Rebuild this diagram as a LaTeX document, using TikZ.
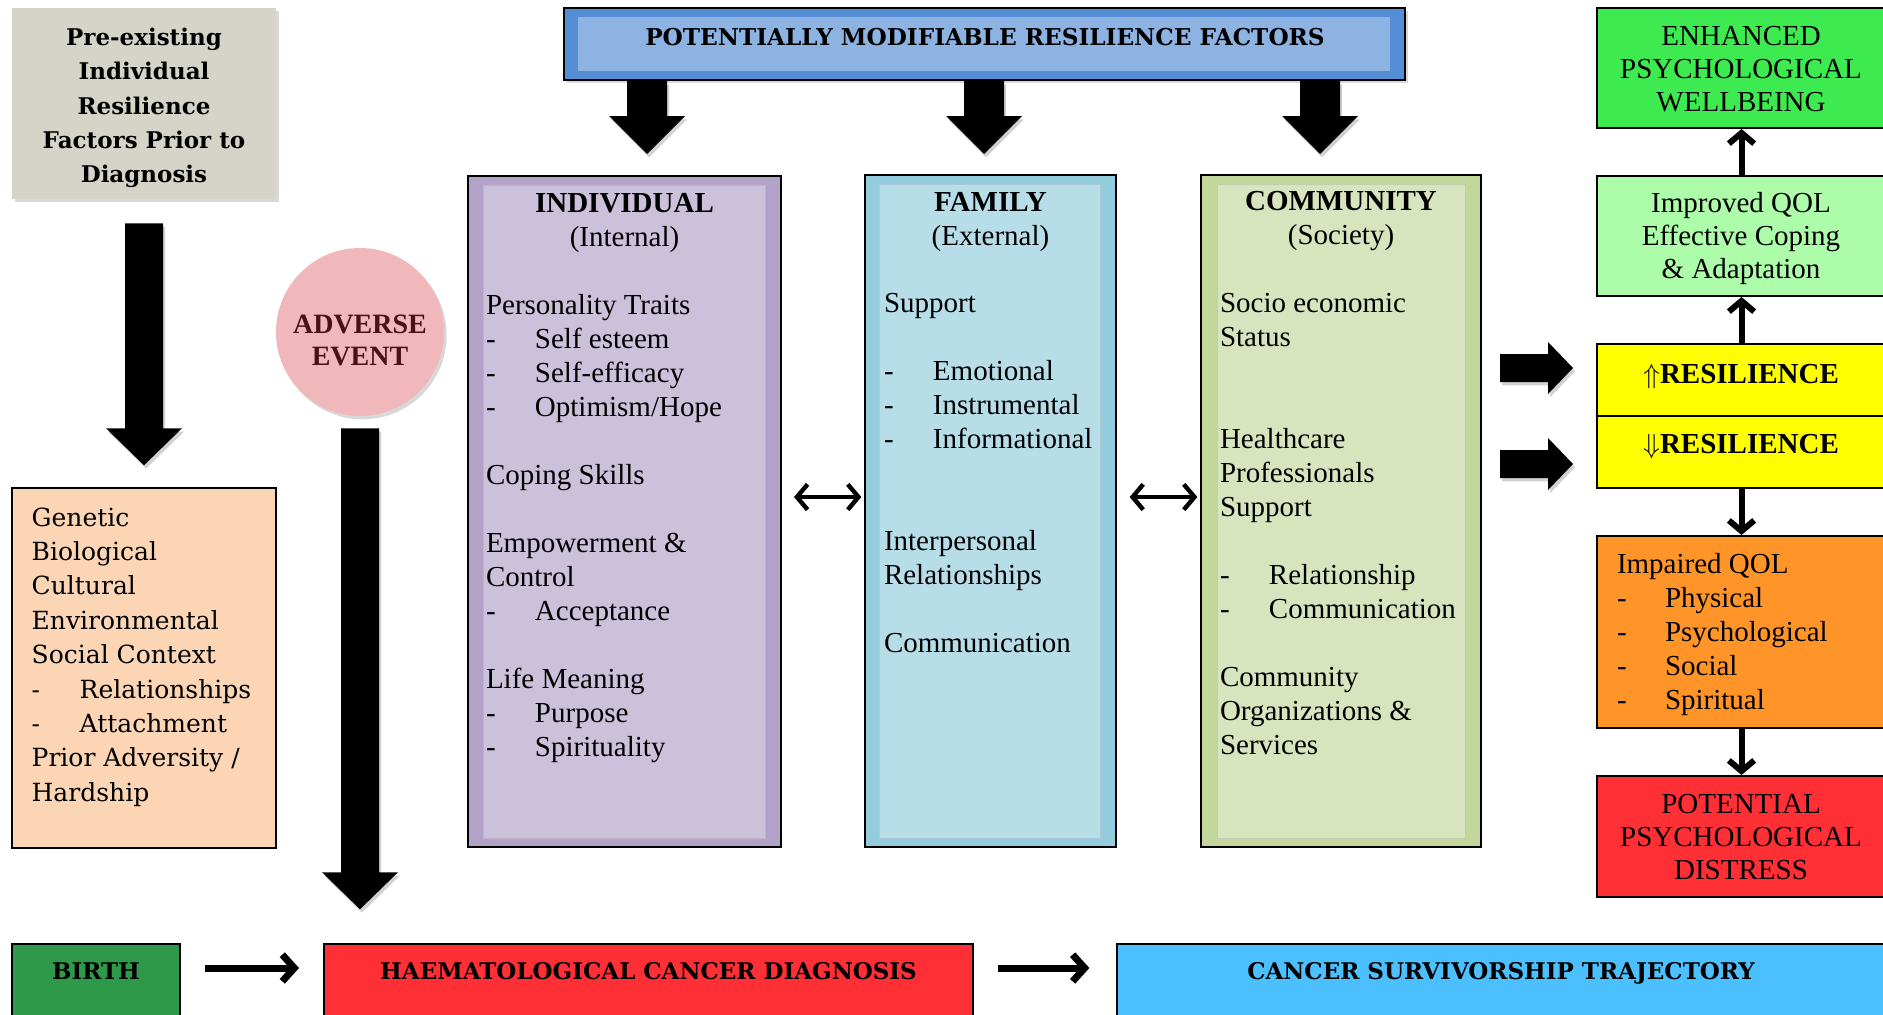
\documentclass[tikz,border=0pt]{standalone}
\usepackage{fontspec}
\setmainfont{Liberation Serif}
\newfontfamily\camb{DejaVu Serif}
\usetikzlibrary{arrows.meta,shadows,calc,fit}

\definecolor{preC}{HTML}{D6D4C8}
\definecolor{titleO}{HTML}{558ED5}
\definecolor{titleI}{HTML}{8DB3E2}
\definecolor{indO}{HTML}{B3A2C7}
\definecolor{indI}{HTML}{CCC1DA}
\definecolor{famO}{HTML}{93CDDD}
\definecolor{famI}{HTML}{B7DEE8}
\definecolor{comO}{HTML}{C3D69B}
\definecolor{comI}{HTML}{D7E4BD}
\definecolor{peachC}{HTML}{FCD5B5}
\definecolor{advC}{HTML}{F0B8BB}
\definecolor{advT}{HTML}{4A1214}
\definecolor{enhC}{HTML}{3DEA50}
\definecolor{impC}{HTML}{ADFCA9}
\definecolor{yelC}{HTML}{FFFF00}
\definecolor{oraC}{HTML}{FF9528}
\definecolor{redC}{HTML}{FF2F36}
\definecolor{birC}{HTML}{2E9A49}
\definecolor{canC}{HTML}{4CBFFF}

\newcommand\bodyfont{\fontsize{21.75pt}{25.5pt}\selectfont}
\newcommand\rfont{\fontsize{21.75pt}{24.9pt}\selectfont}
\newcommand\cambfont{\camb\fontsize{18.75pt}{25.8pt}\selectfont}
\newcommand\cambbold{\camb\bfseries\fontsize{17.25pt}{25.7pt}\selectfont}
\newcommand\di[1]{\makebox[36.75pt][l]{-}#1}
\newcommand\dii[1]{\makebox[36pt][l]{-}#1}

\newcommand\vblock[5]{%
  \fill[blockarrow] #1 ++(-#3,0) -- ++(2*#3,0) -- ++(0,#2-#5) -- ++(#4-#3,0)
    -- ++(-#4,#5) -- ++(-#4,-#5) -- ++(#4-#3,0) -- cycle;}
\newcommand\hblock[5]{%
  \fill[blockarrow] #1 ++(0,-#3) -- ++(#2-#5,0) -- ++(0,#3-#4) -- ++(#5,#4)
    -- ++(-#5,#4) -- ++(0,#3-#4) -- ++(#5-#2,0) -- cycle;}

\tikzset{
  box/.style={draw=black, line width=1.5pt, rectangle, inner sep=0pt},
  inbox/.style={rectangle, inner sep=0pt, line width=0.6pt},
  ctr/.style={inner sep=0pt, outer sep=0pt, anchor=base},
  lft/.style={inner sep=0pt, outer sep=0pt, anchor=base west},
  blockarrow/.style={fill=black, drop shadow={opacity=0.35, shadow xshift=1.5pt, shadow yshift=-2.5pt}},
  soft/.style={drop shadow={opacity=0.3, shadow xshift=2pt, shadow yshift=-2.5pt}},
  dbl/.style={line width=3.3pt, {Straight Barb[length=8pt,width=19pt]}-{Straight Barb[length=8pt,width=19pt]}},
  varr/.style={line width=4.5pt, -{Straight Barb[length=8pt,width=19pt]}},
  harr/.style={line width=5.25pt, -{Straight Barb[length=9pt,width=20pt]}},
}

\begin{document}
\begin{tikzpicture}[x=0.75pt, y=-0.75pt]
\fill[white] (0,0) rectangle (1883,1014);
\useasboundingbox (0,0) rectangle (1883,1014);

% ---- left: pre-existing factors ----
\node[rectangle, inner sep=0pt, fill=preC, soft, fit={(12,8) (276,199)}] (pre) {};
\node[ctr] (pret) at (144,45.7) {\parbox[t]{195pt}{\centering\cambbold Pre-existing\par Individual\par Resilience\par Factors Prior to\par Diagnosis}};

\node[box, fill=peachC, fit={(12,488) (276,848)}] (peach) {};
\node[lft] (peacht) at (31.7,526) {\parbox[t]{200pt}{\cambfont Genetic\par Biological\par Cultural\par Environmental\par Social Context\par \dii{Relationships}\par \dii{Attachment}\par Prior Adversity /\par Hardship}};

% ---- adverse event ----
\node[circle, fill=advC, minimum size=126pt, inner sep=0pt, soft] (adv) at (360,332) {};
\node[ctr, text=advT] (advt) at (360,333) {\parbox[t]{120pt}{\centering\bfseries\fontsize{21pt}{24pt}\selectfont ADVERSE\par EVENT}};

% ---- title ----
\node[box, fill=titleO, soft, fit={(564,8) (1405,80)}] (pot) {};
\node[inbox, fill=titleI, fit={(578,17) (1390,71)}] (potin) {};
\node[ctr, font=\camb\bfseries\fontsize{17.4pt}{21pt}\selectfont] (pott) at (985,45) {POTENTIALLY MODIFIABLE RESILIENCE FACTORS};

% ---- three columns ----
\node[box, fill=indO, fit={(468,176) (781,847)}] (ind) {};
\node[inbox, fill=indI, draw=indO!80!black!60, fit={(483,185) (765,838)}] (indin) {};
\node[box, fill=famO, fit={(865,175) (1116,847)}] (fam) {};
\node[inbox, fill=famI, draw=famO!80!black!60, fit={(879,184) (1100,838)}] (famin) {};
\node[box, fill=comO, fit={(1201,175) (1481,847)}] (com) {};
\node[inbox, fill=comI, draw=comO!80!black!60, fit={(1217,184) (1465,838)}] (comin) {};

\node[ctr, font=\bodyfont] (indh) at (624.5,212) {\parbox[t]{200pt}{\centering\textbf{INDIVIDUAL}\par(Internal)}};
\node[lft, font=\bodyfont] (indt) at (486,314) {\parbox[t]{250pt}{Personality Traits\par\di{Self esteem}\par\di{Self-efficacy}\par\di{Optimism/Hope}\par\mbox{}\par Coping Skills\par\mbox{}\par Empowerment \&\par Control\par\di{Acceptance}\par\mbox{}\par Life Meaning\par\di{Purpose}\par\di{Spirituality}}};

\node[ctr, font=\bodyfont] (famh) at (990.5,211) {\parbox[t]{180pt}{\centering\textbf{FAMILY}\par(External)}};
\node[lft, font=\bodyfont] (famt) at (884,312) {\parbox[t]{250pt}{Support\par\mbox{}\par\di{Emotional}\par\di{Instrumental}\par\di{Informational}\par\mbox{}\par\mbox{}\par Interpersonal\par Relationships\par\mbox{}\par Communication}};

\node[ctr, font=\bodyfont] (comh) at (1341,210) {\parbox[t]{220pt}{\centering\textbf{COMMUNITY}\par(Society)}};
\node[lft, font=\bodyfont] (comt) at (1220,312) {\parbox[t]{250pt}{Socio economic\par Status\par\mbox{}\par\mbox{}\par Healthcare\par Professionals\par Support\par\mbox{}\par\di{Relationship}\par\di{Communication}\par\mbox{}\par Community\par Organizations \&\par Services}};

% ---- right column ----
\node[box, fill=enhC, fit={(1597,8) (1886,128)}] (enh) {};
\node[ctr, font=\rfont] (enht) at (1741,45) {\parbox[t]{230pt}{\centering ENHANCED\par PSYCHOLOGICAL\par WELLBEING}};
\node[box, fill=impC, fit={(1597,176) (1886,296)}] (impr) {};
\node[ctr, font=\rfont] (imprt) at (1741,212) {\parbox[t]{230pt}{\centering Improved QOL\par Effective Coping\par \& Adaptation}};
\node[box, fill=yelC, fit={(1597,344) (1886,416)}] (upres) {};
\node[ctr, font=\bodyfont\bfseries] (uprest) at (1741,383) {$\Uparrow$RESILIENCE};
\node[box, fill=yelC, fit={(1597,416) (1886,488)}] (dnres) {};
\node[ctr, font=\bodyfont\bfseries] (dnrest) at (1741,453) {$\Downarrow$RESILIENCE};
\node[box, fill=oraC, fit={(1597,536) (1886,728)}] (impair) {};
\node[lft, font=\bodyfont] (impairt) at (1617,573) {\parbox[t]{230pt}{Impaired QOL\par\dii{Physical}\par\dii{Psychological}\par\dii{Social}\par\dii{Spiritual}}};
\node[box, fill=redC, fit={(1597,776) (1886,897)}] (dist) {};
\node[ctr, font=\rfont] (distt) at (1741,813) {\parbox[t]{230pt}{\centering POTENTIAL\par PSYCHOLOGICAL\par DISTRESS}};

% ---- bottom row ----
\node[box, fill=birC, fit={(12,944) (180,1018)}] (birth) {};
\node[ctr, font=\cambbold] (birtht) at (96,979) {BIRTH};
\node[box, fill=redC, fit={(324,944) (973,1018)}] (haem) {};
\node[ctr, font=\cambbold] (haemt) at (648.5,979) {HAEMATOLOGICAL CANCER DIAGNOSIS};
\node[box, fill=canC, fit={(1117,944) (1887,1018)}] (canc) {};
\node[ctr, font=\cambbold] (canct) at (1501,979) {CANCER SURVIVORSHIP TRAJECTORY};

% ---- block arrows ----
\vblock{($(pre.south)+(0,24)$)}{242}{19}{38}{37}
\vblock{($(pot.south west)+(84,0)$)}{73}{20}{38}{38}
\vblock{($(pot.south west)+(421,0)$)}{73}{20}{38}{38}
\vblock{($(pot.south west)+(757,0)$)}{73}{20}{38}{38}
\vblock{($(adv.south)+(0,12)$)}{481}{19}{38}{37}
\coordinate (ra1) at (1500,368);
\coordinate (ra2) at (1500,464);
\hblock{(ra1)}{73}{14}{26}{25}
\hblock{(ra2)}{73}{14}{26}{25}

% ---- thin connectors ----
\coordinate (rowA) at (0,497);
\draw[dbl, shorten <=9pt, shorten >=2pt] (ind.east |- rowA) -- (fam.west |- rowA);
\draw[dbl, shorten <=9.5pt, shorten >=2pt] (fam.east |- rowA) -- (com.west |- rowA);

\draw[varr] (impr.north) -- (enh.south);
\draw[varr] (upres.north) -- (impr.south);
\draw[varr] (dnres.south) -- (impair.north);
\draw[varr] (impair.south) -- (dist.north);

\coordinate (rowB) at (0,968);
\draw[harr, shorten <=18pt, shorten >=18pt] (birth.east |- rowB) -- (haem.west |- rowB);
\draw[harr, shorten <=18pt, shorten >=20pt] (haem.east |- rowB) -- (canc.west |- rowB);
\end{tikzpicture}
\end{document}
